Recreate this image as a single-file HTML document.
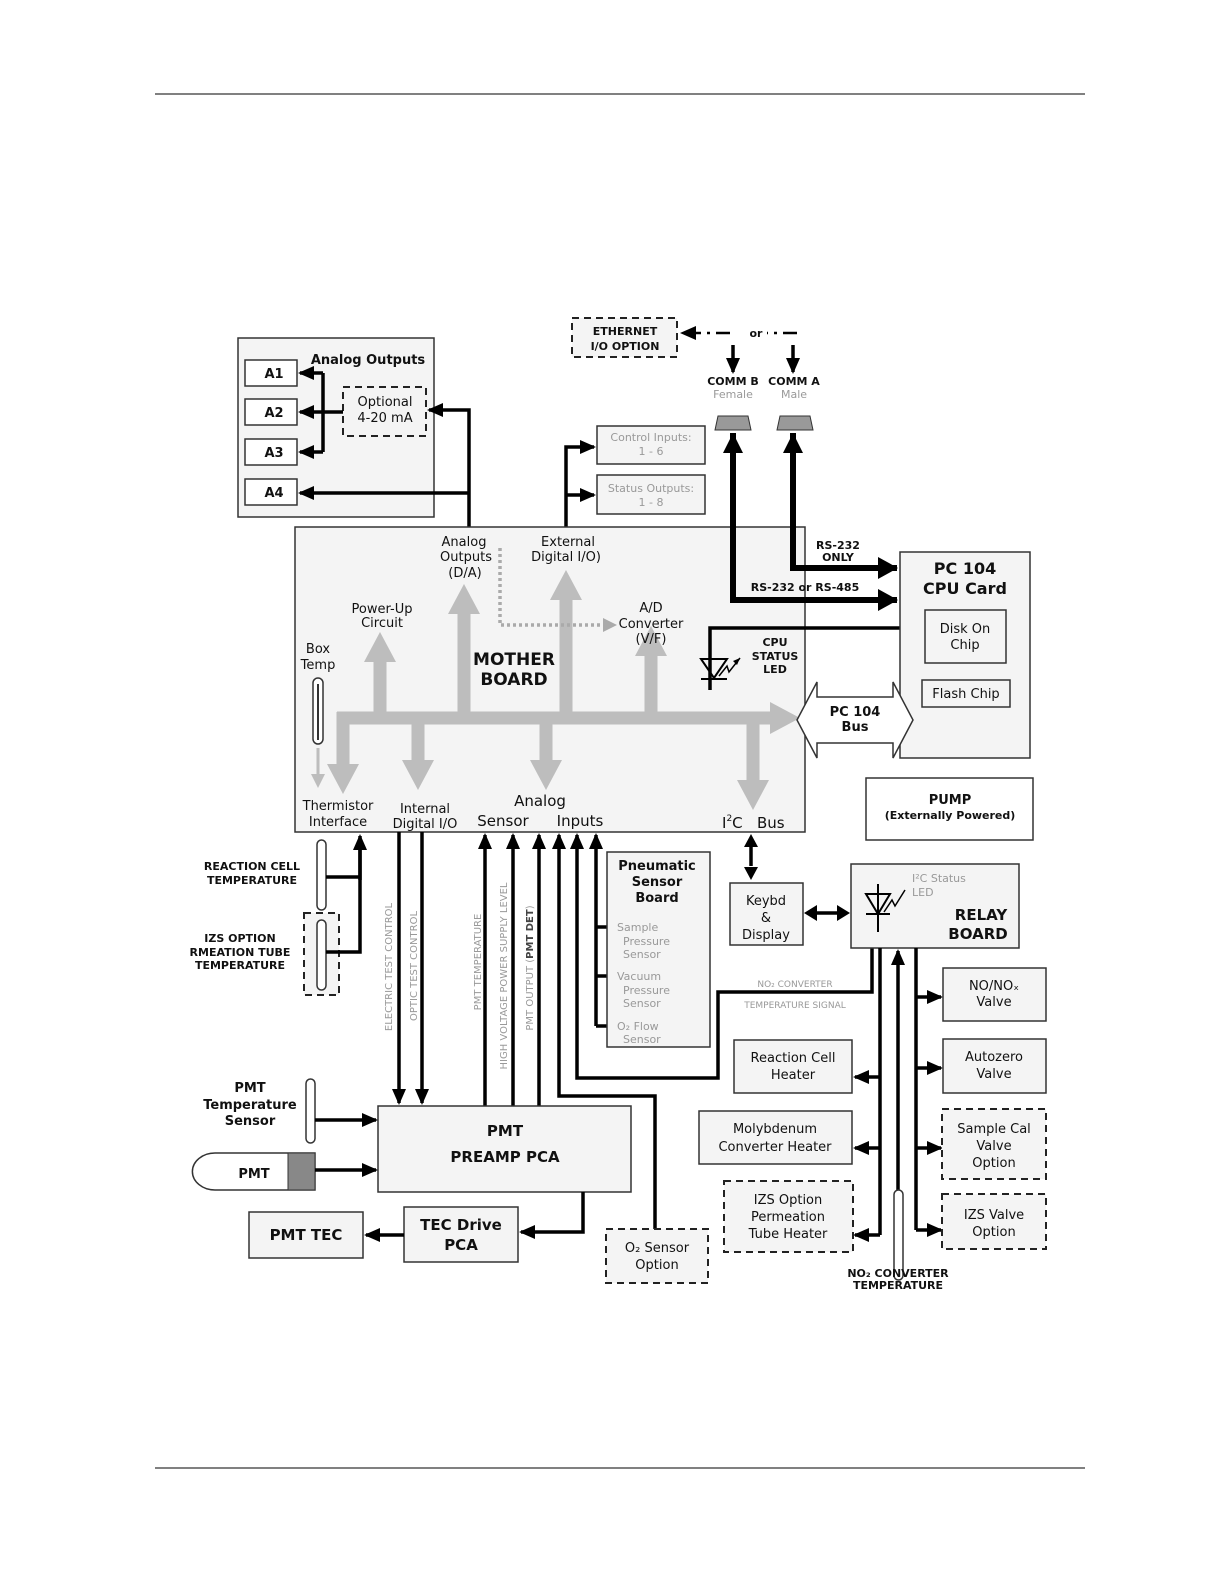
<!DOCTYPE html>
<html><head><meta charset="utf-8"><style>
html,body{margin:0;padding:0;background:#fff;overflow:hidden;width:1224px;height:1584px}
svg{display:block;position:fixed;left:0;top:0;width:100vw;height:100vh}
text{font-family:"DejaVu Sans","Liberation Sans",sans-serif}
.b{fill:#f4f4f4;stroke:#333;stroke-width:1.5}
.d{fill:#f4f4f4;stroke:#222;stroke-width:2;stroke-dasharray:7 5}
.l{stroke:#000;stroke-width:3.5;fill:none}
.g{stroke:#bdbdbd;stroke-width:13;fill:none}
.t{font-size:13px;fill:#111}
.s{font-size:11px;font-weight:bold;fill:#111}
.gr{font-size:11px;fill:#999}
</style></head><body>
<svg viewBox="0 0 1224 1584" preserveAspectRatio="none">
<defs>
<marker id="a" markerUnits="userSpaceOnUse" markerWidth="16" markerHeight="16" refX="14" refY="8" orient="auto"><path d="M0,1 L16,8 L0,15 Z" fill="#000"/></marker>
<marker id="ga" markerUnits="userSpaceOnUse" markerWidth="40" markerHeight="40" refX="2" refY="20" orient="auto"><path d="M0,4 L30,20 L0,36 Z" fill="#bdbdbd"/></marker>
<marker id="gs" markerUnits="userSpaceOnUse" markerWidth="20" markerHeight="20" refX="2" refY="10" orient="auto"><path d="M0,3 L14,10 L0,17 Z" fill="#bdbdbd"/></marker>
</defs>
<line x1="155" y1="94" x2="1085" y2="94" stroke="#000" stroke-width="1"/>
<line x1="155" y1="1468" x2="1085" y2="1468" stroke="#000" stroke-width="1"/>

<!-- Analog outputs -->
<rect class="b" x="238" y="338" width="196" height="179"/>
<text x="368" y="364" text-anchor="middle" class="t" font-weight="bold">Analog Outputs</text>
<rect x="245" y="360" width="52" height="26" fill="#fff" stroke="#333" stroke-width="1.5"/><text x="274" y="378" class="t" font-weight="bold" text-anchor="middle">A1</text>
<rect x="245" y="399" width="52" height="26" fill="#fff" stroke="#333" stroke-width="1.5"/><text x="274" y="417" class="t" font-weight="bold" text-anchor="middle">A2</text>
<rect x="245" y="439" width="52" height="26" fill="#fff" stroke="#333" stroke-width="1.5"/><text x="274" y="457" class="t" font-weight="bold" text-anchor="middle">A3</text>
<rect x="245" y="479" width="52" height="26" fill="#fff" stroke="#333" stroke-width="1.5"/><text x="274" y="497" class="t" font-weight="bold" text-anchor="middle">A4</text>
<rect class="d" x="343" y="387" width="83" height="49"/>
<text x="385" y="406" class="t" text-anchor="middle">Optional</text><text x="385" y="422" class="t" text-anchor="middle">4-20 mA</text>
<path class="l" d="M323,373 V452"/>
<line class="l" x1="323" y1="373" x2="300" y2="373" marker-end="url(#a)"/>
<line class="l" x1="343" y1="412" x2="300" y2="412" marker-end="url(#a)"/>
<line class="l" x1="323" y1="452" x2="300" y2="452" marker-end="url(#a)"/>
<path class="l" d="M469,527 V410 H429" marker-end="url(#a)"/>
<path class="l" d="M469,493 H300" marker-end="url(#a)"/>

<!-- Control/status -->
<rect class="b" x="597" y="426" width="108" height="38"/>
<text x="651" y="441" class="gr" text-anchor="middle">Control Inputs:</text><text x="651" y="455" class="gr" text-anchor="middle">1 - 6</text>
<rect class="b" x="597" y="475" width="108" height="39"/>
<text x="651" y="492" class="gr" text-anchor="middle">Status Outputs:</text><text x="651" y="506" class="gr" text-anchor="middle">1 - 8</text>
<path class="l" d="M566,527 V447 H594" marker-end="url(#a)"/>
<path class="l" d="M566,495 H594" marker-end="url(#a)"/>

<!-- Ethernet / comm -->
<rect class="d" x="572" y="318" width="105" height="39" fill="#fff"/>
<text x="625" y="335" class="s" text-anchor="middle">ETHERNET</text><text x="625" y="350" class="s" text-anchor="middle">I/O OPTION</text>
<path d="M797,333 H740 M730,333 H682" stroke="#000" stroke-width="2.5" stroke-dasharray="14 6 3 6" fill="none" marker-end="url(#a)"/>
<rect x="745" y="325" width="22" height="14" fill="#fff"/><text x="756" y="337" class="s" text-anchor="middle">or</text>
<line class="l" x1="733" y1="345" x2="733" y2="372" marker-end="url(#a)"/>
<line class="l" x1="793" y1="345" x2="793" y2="372" marker-end="url(#a)"/>
<text x="733" y="385" class="s" text-anchor="middle" font-size="10">COMM B</text><text x="733" y="398" class="gr" text-anchor="middle" font-size="10">Female</text>
<text x="794" y="385" class="s" text-anchor="middle" font-size="10">COMM A</text><text x="794" y="398" class="gr" text-anchor="middle" font-size="10">Male</text>
<path d="M718,416 H748 L751,430 H715 Z" fill="#999" stroke="#333"/>
<path d="M780,416 H810 L813,430 H777 Z" fill="#999" stroke="#333"/>

<!-- Mother board -->
<rect class="b" x="295" y="527" width="510" height="305"/>
<path d="M733,433 V600 H897" stroke="#000" stroke-width="6" fill="none"/>
<path d="M733,433 l-10,20 h20 z M898,600 l-20,-11 v22 z" fill="#000"/>
<path d="M793,433 V568 H897" stroke="#000" stroke-width="6" fill="none"/>
<path d="M793,433 l-10,20 h20 z M898,568 l-20,-11 v22 z" fill="#000"/>
<text x="838" y="549" class="s" text-anchor="middle" font-size="10">RS-232</text><text x="838" y="561" class="s" text-anchor="middle" font-size="10">ONLY</text>
<text x="805" y="591" class="s" text-anchor="middle" font-size="10">RS-232 or RS-485</text>

<!-- gray bus -->
<line class="g" x1="337" y1="718" x2="772" y2="718" marker-end="url(#ga)"/>
<line class="g" x1="380" y1="718" x2="380" y2="660" marker-end="url(#ga)"/>
<line class="g" x1="464" y1="718" x2="464" y2="612" marker-end="url(#ga)"/>
<line class="g" x1="566" y1="718" x2="566" y2="598" marker-end="url(#ga)"/>
<line class="g" x1="651" y1="718" x2="651" y2="654" marker-end="url(#ga)"/>
<line class="g" x1="343" y1="712" x2="343" y2="766" marker-end="url(#ga)"/>
<line class="g" x1="418" y1="718" x2="418" y2="762" marker-end="url(#ga)"/>
<line class="g" x1="546" y1="718" x2="546" y2="762" marker-end="url(#ga)"/>
<line class="g" x1="753" y1="718" x2="753" y2="782" marker-end="url(#ga)"/>
<path d="M500,548 V625 H602" stroke="#aaa" stroke-width="3.5" stroke-dasharray="3 3" fill="none"/>
<path d="M603,618 L617,625 L603,632 Z" fill="#aaa"/>
<rect x="313" y="678" width="10" height="66" rx="5" fill="#fff" stroke="#333" stroke-width="1.5"/>
<line x1="318" y1="684" x2="318" y2="740" stroke="#333" stroke-width="2"/>
<line x1="318" y1="748" x2="318" y2="776" stroke="#bdbdbd" stroke-width="3" marker-end="url(#gs)"/>

<text x="464" y="546" class="t" text-anchor="middle">Analog</text><text x="466" y="561" class="t" text-anchor="middle">Outputs</text><text x="465" y="577" class="t" text-anchor="middle">(D/A)</text>
<text x="568" y="546" class="t" text-anchor="middle">External</text><text x="566" y="561" class="t" text-anchor="middle">Digital I/O)</text>
<text x="382" y="613" class="t" text-anchor="middle">Power-Up</text><text x="382" y="627" class="t" text-anchor="middle">Circuit</text>
<text x="651" y="612" class="t" text-anchor="middle">A/D</text><text x="651" y="628" class="t" text-anchor="middle">Converter</text><text x="651" y="643" class="t" text-anchor="middle">(V/F)</text>
<text x="514" y="665" font-size="17" font-weight="bold" text-anchor="middle" fill="#111">MOTHER</text><text x="514" y="685" font-size="17" font-weight="bold" text-anchor="middle" fill="#111">BOARD</text>
<text x="318" y="653" class="t" text-anchor="middle">Box</text><text x="318" y="669" class="t" text-anchor="middle">Temp</text>
<text x="338" y="810" class="t" text-anchor="middle">Thermistor</text><text x="338" y="826" class="t" text-anchor="middle">Interface</text>
<text x="425" y="813" class="t" text-anchor="middle">Internal</text><text x="425" y="828" class="t" text-anchor="middle">Digital I/O</text>
<text x="540" y="806" font-size="15" text-anchor="middle" fill="#111">Analog</text>
<text x="503" y="826" font-size="15" text-anchor="middle" fill="#111">Sensor</text><text x="580" y="826" font-size="15" text-anchor="middle" fill="#111">Inputs</text>
<text x="722" y="828" font-size="15" fill="#111">I<tspan font-size="9" dy="-7">2</tspan><tspan dy="7">C&#160;&#160;&#160;Bus</tspan></text>

<!-- CPU LED -->
<path class="l" d="M926,628 H710 V690" stroke-width="3"/>
<path d="M701,659 H727 L714,678 Z M701,679 H727" fill="none" stroke="#000" stroke-width="2"/>
<path d="M719,676 L727,666 L729,672 L740,658" stroke="#000" stroke-width="1.5" fill="none"/>
<path d="M740,658 l-7,3 l4,4 z" fill="#000"/>
<text x="775" y="646" class="s" text-anchor="middle" font-size="10">CPU</text><text x="775" y="660" class="s" text-anchor="middle" font-size="10">STATUS</text><text x="775" y="673" class="s" text-anchor="middle" font-size="10">LED</text>

<!-- PC104 -->
<rect class="b" x="900" y="552" width="130" height="206"/>
<text x="965" y="574" font-size="16" font-weight="bold" text-anchor="middle" fill="#111">PC 104</text><text x="965" y="594" font-size="16" font-weight="bold" text-anchor="middle" fill="#111">CPU Card</text>
<rect class="b" x="925" y="610" width="81" height="53"/>
<text x="965" y="633" class="t" text-anchor="middle">Disk On</text><text x="965" y="649" class="t" text-anchor="middle">Chip</text>
<rect class="b" x="922" y="680" width="88" height="27"/>
<text x="966" y="698" class="t" text-anchor="middle">Flash Chip</text>
<path d="M797,720 L817,682 V697 H893 V682 L913,720 L893,758 V743 H817 V758 Z" fill="#fff" stroke="#333" stroke-width="1.5"/>
<text x="855" y="716" class="t" font-weight="bold" text-anchor="middle">PC 104</text><text x="855" y="731" class="t" font-weight="bold" text-anchor="middle">Bus</text>

<rect x="866" y="778" width="167" height="62" fill="#fff" stroke="#333" stroke-width="1.5"/>
<text x="950" y="804" class="t" font-weight="bold" text-anchor="middle">PUMP</text><text x="950" y="819" class="s" font-size="10" text-anchor="middle">(Externally Powered)</text>

<!-- left bottom sensors -->
<text x="252" y="870" class="s" font-size="10" text-anchor="middle">REACTION CELL</text><text x="252" y="884" class="s" font-size="10" text-anchor="middle">TEMPERATURE</text>
<rect x="317" y="840" width="9" height="70" rx="4.5" fill="#fff" stroke="#333" stroke-width="1.5"/>
<rect class="d" x="304" y="913" width="35" height="82" fill="#fff" stroke-width="1.5"/>
<rect x="317" y="920" width="9" height="70" rx="4.5" fill="#fff" stroke="#333" stroke-width="1.5"/>
<text x="240" y="942" class="s" font-size="10" text-anchor="middle">IZS OPTION</text><text x="240" y="956" class="s" font-size="10" text-anchor="middle">RMEATION TUBE</text><text x="240" y="969" class="s" font-size="10" text-anchor="middle">TEMPERATURE</text>
<path class="l" d="M326,877 H360 M326,952 H360 V850" stroke-width="3"/>
<line class="l" x1="360" y1="880" x2="360" y2="836" stroke-width="3" marker-end="url(#a)"/>

<line class="l" x1="399" y1="832" x2="399" y2="1103" stroke-width="3" marker-end="url(#a)"/>
<line class="l" x1="422" y1="832" x2="422" y2="1103" stroke-width="3" marker-end="url(#a)"/>
<line class="l" x1="485" y1="1106" x2="485" y2="835" stroke-width="3" marker-end="url(#a)"/>
<line class="l" x1="513" y1="1106" x2="513" y2="835" stroke-width="3" marker-end="url(#a)"/>
<line class="l" x1="539" y1="1106" x2="539" y2="835" stroke-width="3" marker-end="url(#a)"/>
<path class="l" d="M655,1229 V1096 H559 V835" stroke-width="3" marker-end="url(#a)"/>
<path class="l" d="M872,948 V992 H718 V1078 H577 V835" stroke-width="3" marker-end="url(#a)"/>
<path class="l" d="M596,1026 V835" stroke-width="3" marker-end="url(#a)"/>
<path class="l" d="M596,927 H615 M596,976 H615 M596,1026 H615" stroke-width="3"/>
<g font-size="10" fill="#999" text-anchor="middle">
<text transform="translate(392,967) rotate(-90)">ELECTRIC TEST CONTROL</text>
<text transform="translate(417,966) rotate(-90)">OPTIC TEST CONTROL</text>
<text transform="translate(481,962) rotate(-90)">PMT TEMPERATURE</text>
<text transform="translate(507,976) rotate(-90)">HIGH VOLTAGE POWER SUPPLY LEVEL</text>
<text transform="translate(533,968) rotate(-90)">PMT OUTPUT (<tspan font-weight="bold" fill="#444">PMT DET</tspan>)</text>
</g>

<!-- Pneumatic -->
<rect class="b" x="607" y="852" width="103" height="195"/>
<text x="657" y="870" class="t" font-weight="bold" text-anchor="middle">Pneumatic</text><text x="657" y="886" class="t" font-weight="bold" text-anchor="middle">Sensor</text><text x="657" y="902" class="t" font-weight="bold" text-anchor="middle">Board</text>
<g class="gr"><text x="617" y="931">Sample</text><text x="623" y="945">Pressure</text><text x="623" y="958">Sensor</text>
<text x="617" y="980">Vacuum</text><text x="623" y="994">Pressure</text><text x="623" y="1007">Sensor</text>
<text x="617" y="1030">O₂ Flow</text><text x="623" y="1043">Sensor</text></g>

<!-- PMT preamp -->
<rect class="b" x="378" y="1106" width="253" height="86"/>
<text x="505" y="1136" font-size="15" font-weight="bold" text-anchor="middle" fill="#111">PMT</text><text x="505" y="1162" font-size="15" font-weight="bold" text-anchor="middle" fill="#111">PREAMP PCA</text>
<text x="250" y="1092" class="t" font-weight="bold" text-anchor="middle">PMT</text><text x="250" y="1109" class="t" font-weight="bold" text-anchor="middle">Temperature</text><text x="250" y="1125" class="t" font-weight="bold" text-anchor="middle">Sensor</text>
<rect x="306" y="1079" width="9" height="64" rx="4.5" fill="#fff" stroke="#333" stroke-width="1.5"/>
<line class="l" x1="315" y1="1120" x2="376" y2="1120" marker-end="url(#a)"/>
<path d="M215,1153 H315 V1190 H215 A22,18 0 0 1 215,1153 Z" fill="#fff" stroke="#333" stroke-width="1.5"/>
<rect x="288" y="1153" width="27" height="37" fill="#888" stroke="#333"/>
<text x="254" y="1178" class="t" font-weight="bold" text-anchor="middle">PMT</text>
<line class="l" x1="315" y1="1170" x2="376" y2="1170" marker-end="url(#a)"/>
<rect class="b" x="404" y="1207" width="114" height="55"/>
<text x="461" y="1230" font-size="15" font-weight="bold" text-anchor="middle" fill="#111">TEC Drive</text><text x="461" y="1250" font-size="15" font-weight="bold" text-anchor="middle" fill="#111">PCA</text>
<path class="l" d="M583,1192 V1232 H521" marker-end="url(#a)"/>
<rect class="b" x="249" y="1212" width="114" height="46"/>
<text x="306" y="1240" font-size="15" font-weight="bold" text-anchor="middle" fill="#111">PMT TEC</text>
<line class="l" x1="404" y1="1235" x2="366" y2="1235" marker-end="url(#a)"/>
<rect class="d" x="606" y="1229" width="102" height="54" fill="#fff"/>
<text x="657" y="1252" class="t" text-anchor="middle">O₂ Sensor</text><text x="657" y="1269" class="t" text-anchor="middle">Option</text>

<!-- Keybd / relay -->
<line class="l" x1="751" y1="846" x2="751" y2="866" stroke-width="3"/>
<path d="M751,834 l-7,13 h14 z M751,880 l-7,-13 h14 z" fill="#000"/>
<rect class="b" x="730" y="883" width="73" height="62"/>
<text x="766" y="905" class="t" text-anchor="middle">Keybd</text><text x="766" y="922" class="t" text-anchor="middle">&amp;</text><text x="766" y="939" class="t" text-anchor="middle">Display</text>
<line class="l" x1="815" y1="913" x2="838" y2="913"/>
<path d="M804,913 l13,-8 v16 z M850,913 l-13,-8 v16 z" fill="#000"/>
<rect class="b" x="851" y="864" width="168" height="84"/>
<path d="M866,894 H890 L878,914 Z M866,914 H890 M878,884 V932" fill="none" stroke="#000" stroke-width="2"/>
<path d="M884,912 L892,900 L895,906 L905,890" stroke="#000" stroke-width="1.5" fill="none"/>
<text x="912" y="882" class="gr">I²C Status</text><text x="912" y="896" class="gr">LED</text>
<text x="981" y="920" font-size="15" font-weight="bold" text-anchor="middle" fill="#111">RELAY</text><text x="978" y="939" font-size="15" font-weight="bold" text-anchor="middle" fill="#111">BOARD</text>
<text x="795" y="987" font-size="9" fill="#999" text-anchor="middle">NO₂ CONVERTER</text>
<text x="795" y="1008" font-size="9" fill="#999" text-anchor="middle">TEMPERATURE  SIGNAL</text>

<path class="l" d="M880,948 V1235" stroke-width="3"/>
<line class="l" x1="880" y1="1077" x2="855" y2="1077" stroke-width="3" marker-end="url(#a)"/>
<line class="l" x1="880" y1="1148" x2="855" y2="1148" stroke-width="3" marker-end="url(#a)"/>
<line class="l" x1="880" y1="1235" x2="855" y2="1235" stroke-width="3" marker-end="url(#a)"/>
<line class="l" x1="898" y1="1190" x2="898" y2="951" stroke-width="3" marker-end="url(#a)"/>
<rect x="894" y="1190" width="9" height="90" rx="4.5" fill="#fff" stroke="#333" stroke-width="1.5"/>
<path class="l" d="M916,948 V1230" stroke-width="3"/>
<line class="l" x1="916" y1="997" x2="941" y2="997" stroke-width="3" marker-end="url(#a)"/>
<line class="l" x1="916" y1="1068" x2="941" y2="1068" stroke-width="3" marker-end="url(#a)"/>
<line class="l" x1="916" y1="1148" x2="941" y2="1148" stroke-width="3" marker-end="url(#a)"/>
<line class="l" x1="916" y1="1230" x2="941" y2="1230" stroke-width="3" marker-end="url(#a)"/>
<text x="898" y="1277" class="s" font-size="10" text-anchor="middle">NO₂ CONVERTER</text><text x="898" y="1289" class="s" font-size="10" text-anchor="middle">TEMPERATURE</text>

<rect class="b" x="734" y="1040" width="118" height="53"/>
<text x="793" y="1062" class="t" text-anchor="middle">Reaction Cell</text><text x="793" y="1079" class="t" text-anchor="middle">Heater</text>
<rect class="b" x="699" y="1111" width="153" height="53"/>
<text x="775" y="1133" class="t" text-anchor="middle">Molybdenum</text><text x="775" y="1151" class="t" text-anchor="middle">Converter Heater</text>
<rect class="d" x="724" y="1181" width="129" height="71"/>
<text x="788" y="1204" class="t" text-anchor="middle">IZS Option</text><text x="788" y="1221" class="t" text-anchor="middle">Permeation</text><text x="788" y="1238" class="t" text-anchor="middle">Tube  Heater</text>
<rect class="b" x="943" y="968" width="103" height="53"/>
<text x="994" y="990" class="t" text-anchor="middle">NO/NOₓ</text><text x="994" y="1006" class="t" text-anchor="middle">Valve</text>
<rect class="b" x="943" y="1039" width="103" height="54"/>
<text x="994" y="1061" class="t" text-anchor="middle">Autozero</text><text x="994" y="1078" class="t" text-anchor="middle">Valve</text>
<rect class="d" x="942" y="1109" width="104" height="70"/>
<text x="994" y="1133" class="t" text-anchor="middle">Sample Cal</text><text x="994" y="1150" class="t" text-anchor="middle">Valve</text><text x="994" y="1167" class="t" text-anchor="middle">Option</text>
<rect class="d" x="942" y="1194" width="104" height="55"/>
<text x="994" y="1219" class="t" text-anchor="middle">IZS Valve</text><text x="994" y="1236" class="t" text-anchor="middle">Option</text>
</svg>
</body></html>
